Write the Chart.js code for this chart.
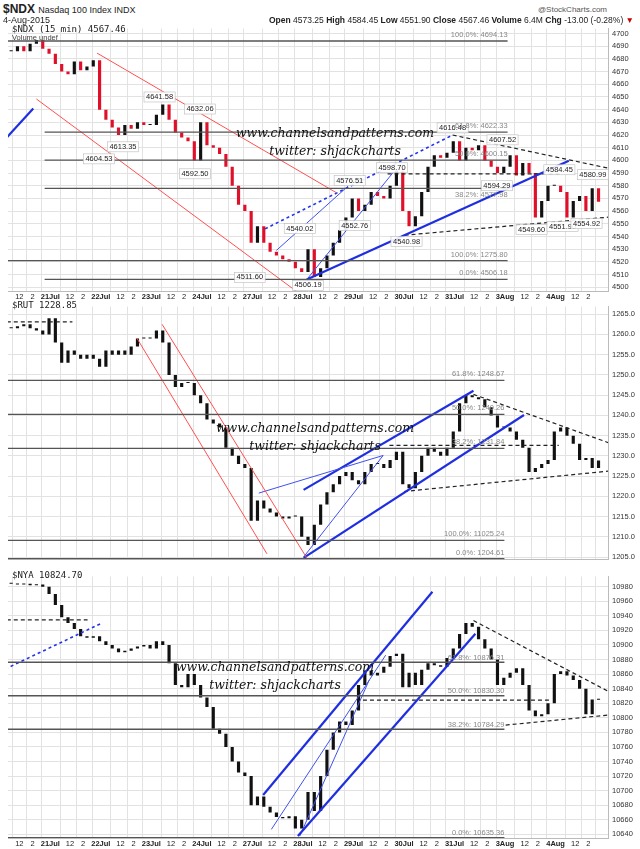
<!DOCTYPE html>
<html><head><meta charset="utf-8">
<script src="https://cdn.jsdelivr.net/npm/chart.js@4.4.0/dist/chart.umd.min.js"></script>
<style>
body{margin:0;background:#fff;font-family:"Liberation Sans",Arial,sans-serif;}
#wrap{position:relative;width:640px;height:849px;overflow:hidden;}
canvas{position:absolute;left:0;}
.t{position:absolute;white-space:nowrap;color:#222;}
.wm{position:absolute;font-family:"DejaVu Serif",serif;font-style:italic;font-size:12.5px;color:#111;text-align:center;line-height:18px;}
</style></head><body>
<div id="wrap">
<canvas id="c1" width="640" height="282" style="top:20px"></canvas>
<canvas id="c2" width="640" height="270" style="top:298px"></canvas>
<canvas id="c3" width="640" height="281" style="top:568px"></canvas>
<div class="t" style="left:3px;top:2px;font-size:12px;font-weight:bold">$NDX <span style="font-weight:normal;font-size:9px">Nasdaq 100 Index INDX</span></div>
<div class="t" style="left:3px;top:15px;font-size:9px">4-Aug-2015</div>
<div class="t" style="right:33px;top:5px;font-size:8px;color:#555">@StockCharts.com</div>
<div class="t" style="right:6px;top:15px;font-size:8.5px"><b>Open</b> 4573.25 <b>High</b> 4584.45 <b>Low</b> 4551.90 <b>Close</b> 4567.46 <b>Volume</b> 6.4M <b>Chg</b> -13.00 (-0.28%) <span style="color:#c00">&#9660;</span></div>
<div class="t" style="left:12px;top:24px;font-size:9px;font-family:'DejaVu Sans Mono',monospace">$NDX (15 min) 4567.46</div>
<div class="t" style="left:12px;top:33px;font-size:7.5px;color:#444">Volume undef</div>
<div class="t" style="left:12px;top:300px;font-size:9px;font-family:'DejaVu Sans Mono',monospace">$RUT 1228.85</div>
<div class="t" style="left:12px;top:570px;font-size:9px;font-family:'DejaVu Sans Mono',monospace">$NYA 10824.70</div>
<div class="wm" style="left:235px;top:124px;width:200px">www.channelsandpatterns.com<br>twitter: shjackcharts</div>
<div class="wm" style="left:215px;top:419px;width:200px">www.channelsandpatterns.com<br>twitter: shjackcharts</div>
<div class="wm" style="left:175px;top:658px;width:200px">www.channelsandpatterns.com<br>twitter: shjackcharts</div>
</div>
<script>
// sessions shown; 20Jul is partial (6 bars), others 8 bars
const days = ['20Jul','21Jul','22Jul','23Jul','24Jul','27Jul','28Jul','29Jul','30Jul','31Jul','3Aug','4Aug'];

const ndxClose = [
  4686,4690,4686,4692,4695,4688,
  4684,4676,4670,4668,4678,4671,4674,4679,
  4640,4632,4626,4620,4628,4625,4630,4628,
  4628,4636,4644,4632,4622,4618,4615,4600,
  4630,4612,4610,4605,4595,4580,4565,4560,
  4535,4548,4535,4528,4525,4522,4520,4515,
  4512,4530,4508,4515,4525,4535,4545,4555,
  4570,4560,4565,4575,4572,4570,4580,4592,
  4560,4548,4556,4575,4595,4604,4602,4606,
  4615,4600,4610,4608,4612,4600,4595,4590,
  4595,4604,4588,4598,4590,4555,4568,4580,
  4580,4575,4555,4568,4572,4560,4578,4567.46
];
const rutClose = [
  1261.5,1262,1262.5,1261.5,1261,1260,
  1264,1258,1253,1256,1255,1254,1255,1254,
  1252,1256,1255,1256,1255,1257,1259,1259,
  1259,1261,1258,1250,1247,1248,1248,1245,
  1243,1239,1238,1237,1232,1230,1228,1227,
  1214,1219,1217,1216,1215,1214.5,1215,1215,
  1210,1208,1213,1218,1221,1223,1225,1226,
  1224,1223,1226,1228,1228,1227,1229,1231,
  1223,1222,1226,1230,1232,1231,1230,1232,
  1236,1243,1245,1244.5,1244,1242,1240,1237,
  1237,1236,1234,1232,1226,1227,1228,1229,
  1236,1237,1235,1233,1229,1229.5,1227,1228.85
];
const nyaClose = [
  10984,10983,10984,10982,10983,10980,
  10970,10955,10938,10930,10922,10912,10910,10912,
  10905,10900,10895,10890,10892,10895,10898,10900,
  10895,10905,10900,10875,10845,10842,10860,10845,
  10828,10815,10785,10778,10760,10740,10725,10720,
  10680,10692,10678,10670,10664,10662,10665,10648,
  10660,10698,10672,10720,10756,10780,10795,10790,
  10810,10845,10865,10858,10862,10870,10885,10888,
  10842,10862,10845,10866,10875,10872,10870,10882,
  10895,10915,10930,10925,10908,10895,10880,10845,
  10855,10862,10868,10845,10810,10802,10805,10820,
  10860,10864,10858,10852,10840,10805,10825,10824.70
];

// annotation lines: [x1, y1, x2, y2, kind] in bar-index / price units
const ndxLines = [
  [-0.5,4694.13,78.6,4694.13,'fib'],[5.3,4622.33,78.6,4622.33,'fib'],[5.3,4600.15,78.6,4600.15,'fib'],
  [5.3,4577.98,78.6,4577.98,'fib'],[-0.5,4521,78.6,4521,'fib'],[5.3,4506.18,78.6,4506.18,'fib'],
  [13.6,4684.6,51.5,4574.5,'red'],[4.0,4648.4,47,4490,'red'],
  [-1.8,4612,3.5,4641,'blue'],[46.8,4506,88.3,4599.7,'blue'],
  [46.8,4506,60.4,4590,'thin'],[42,4529,53.4,4580,'thin'],[40.2,4546,69.9,4620,'dot'],
  [69.9,4620,96.3,4592,'dash'],[62.3,4541,96.3,4556,'dash'],[59.6,4589.4,86.8,4589.4,'dash']
];
const rutLines = [
  [-0.5,1248.67,78.1,1248.67,'fib'],[-0.5,1240.26,78.1,1240.26,'fib'],[-0.5,1231.84,78.1,1231.84,'fib'],
  [-0.5,1209.1,78.1,1209.1,'fib'],[-0.5,1204.61,78.1,1204.61,'fib'],
  [-1.8,1263.1,9.7,1263.1,'dash'],
  [19.9,1259.1,40.5,1205.8,'red'],[23.9,1262.5,46.8,1204.8,'red'],
  [39.2,1220.8,58.9,1230.1,'thin'],[58.9,1230.1,46.3,1205,'thin'],
  [46.3,1204.8,81.2,1240.1,'blue'],[46.3,1221.6,73.2,1246.1,'blue'],
  [73.2,1245.2,99.5,1230.5,'dash'],[62.2,1221.2,99.5,1227,'dash'],[59.9,1232.6,86.7,1232.6,'dash']
];
const nyaLines = [
  [-0.5,10876.31,78.1,10876.31,'fib'],[-0.5,10830.30,78.1,10830.30,'fib'],[-0.5,10784.29,78.1,10784.29,'fib'],
  [-0.5,10635.36,78.1,10635.36,'fib'],
  [-1.8,10934.4,12.1,10934.4,'dash'],[-1.8,10863.5,14.1,10929,'dot'],
  [39.9,10694,66.7,10973,'blue'],[45.4,10637.7,73.5,10915.4,'blue'],
  [41.2,10646.8,59.3,10886,'thin'],[45.7,10637.7,56.7,10852,'thin'],
  [73.2,10933.5,99.5,10813.8,'dash'],[78.3,10790,99.5,10808,'dash'],[55.7,10824.2,85.4,10824.2,'dash']
];

// text notes: [x, y, text, kind]
const ndxNotes = [
  [23.5,4650,'4641.58','box'],[29.9,4640.5,'4632.06','box'],[17.7,4610.7,'4613.35','box'],
  [13.9,4601.2,'4604.53','box'],[29.1,4589.4,'4592.50','box'],[37.8,4507.7,'4511.60','box'],
  [47,4501.4,'4506.19','box'],[45.7,4546.2,'4540.02','box'],[54.4,4548.6,'4552.76','box'],
  [53.6,4584,'4576.51','box'],[60.3,4594.2,'4598.70','box'],[69.9,4625.6,'4616.48','box'],
  [77.8,4616.2,'4607.52','box'],[76.9,4580,'4594.29','box'],[86.8,4592.6,'4584.45','box'],
  [92.1,4588.7,'4580.99','box'],[82.4,4545.4,'4549.60','box'],[87.3,4547.8,'4551.90','box'],
  [91.1,4550.1,'4554.92','box'],[62.6,4536,'4540.98','box'],
  [78.6,4696.5,'100.0%: 4694.13','fib'],[78.6,4624.7,'61.8%: 4622.33','fib'],[78.6,4602.5,'50.0%: 4600.15','fib'],
  [78.6,4570.5,'38.2%: 4577.98','fib'],[78.6,4523.4,'100.0%: 1275.80','fib'],[78.6,4508.5,'0.0%: 4506.18','fib']
];
const rutNotes = [
  [78.1,1249.4,'61.8%: 1248.67','fib'],[78.1,1241,'50.0%: 1240.26','fib'],[78.1,1232.6,'38.2%: 1231.84','fib'],
  [78.1,1209.9,'100.0%: 11025.24','fib'],[78.1,1205.4,'0.0%: 1204.61','fib']
];
const nyaNotes = [
  [78.1,10878.7,'61.8%: 10876.31','fib'],[78.1,10832.7,'50.0%: 10830.30','fib'],[78.1,10786.7,'38.2%: 10784.29','fib'],
  [78.1,10637.8,'0.0%: 10635.36','fib']
];

const lineStyle = {
  fib:{borderColor:'#555',borderWidth:1.3},
  red:{borderColor:'#ff5050',borderWidth:1},
  blue:{borderColor:'#1f2fe0',borderWidth:2.2},
  thin:{borderColor:'#4050ee',borderWidth:1},
  dot:{borderColor:'#2233ee',borderWidth:1.6,borderDash:[3,3]},
  dash:{borderColor:'#222',borderWidth:1.2,borderDash:[4,3]}
};

const notesPlugin = {
  id:'notes',
  afterDatasetsDraw(chart, args, opts){
    const {ctx, scales:{x,y}} = chart;
    ctx.save();
    ctx.font = '7.5px "Liberation Sans", Arial';
    ctx.textBaseline = 'middle';
    (opts.items||[]).forEach(([nx,ny,txt,kind])=>{
      const px = x.getPixelForValue(nx), py = y.getPixelForValue(ny);
      const w = ctx.measureText(txt).width;
      if (kind==='box'){
        ctx.fillStyle='rgba(255,255,255,0.9)';
        ctx.fillRect(px-w/2-2,py-5,w+4,10);
        ctx.strokeStyle='#bbb';ctx.lineWidth=0.6;
        ctx.strokeRect(px-w/2-2,py-5,w+4,10);
        ctx.fillStyle='#222';ctx.textAlign='center';ctx.fillText(txt,px,py);
      } else {
        ctx.fillStyle='#888';ctx.textAlign='right';ctx.fillText(txt,px,py-3);
      }
    });
    ctx.restore();
  }
};

function xTicks(){
  const t = [];
  days.forEach((d,i)=>{
    const s = i===0 ? -2 : 6+8*(i-1);
    if (i>0) t.push({value:s+0.2,label:d,day:true});
    t.push({value:s+3.3,label:'12'});
    t.push({value:s+5.4,label:'2'});
  });
  return t;
}

function makePanel(id, closes, lines, notes, yMin, yMax, yStart, yStep, yDec, redDown, showX){
  const bars = closes.map((c,i)=>({x:i, y:[i===0?c:closes[i-1], c]}));
  const colors = bars.map(b=> redDown && b.y[1]<b.y[0] ? '#e0102a' : '#111');
  const datasets = [{type:'bar', data:bars, backgroundColor:colors, barPercentage:0.5, categoryPercentage:1, minBarLength:1, order:2}];
  lines.forEach(([x1,y1,x2,y2,k])=>{
    datasets.push(Object.assign({type:'line', data:[{x:x1,y:y1},{x:x2,y:y2}], pointRadius:0, fill:false, order:1}, lineStyle[k]));
  });
  const ticks = xTicks();
  new Chart(document.getElementById(id), {
    data:{datasets},
    options:{
      responsive:false, animation:false, devicePixelRatio:1,
      layout:{padding:{left:8, top: id==='c1'?5:0, right:0, bottom:0}},
      plugins:{legend:{display:false}, tooltip:{enabled:false}, notes:{items:notes}},
      scales:{
        x:{type:'linear', min:-0.5, max:94.5, offset:false,
          afterBuildTicks:s=>{s.ticks = ticks.map(t=>({value:t.value}));},
          ticks:{display:showX, autoSkip:false, maxRotation:0, padding:1, color:'#222',
            callback:(v,i)=>ticks[i] ? ticks[i].label : '',
            font:c=>({size:7.5, weight: ticks[c.index] && ticks[c.index].day ? 'bold':'normal'})},
          grid:{color:'#e2e2e2', drawTicks:false}, border:{color:'#bbb'}},
        y:{position:'right', min:yMin, max:yMax,
          afterBuildTicks:s=>{const a=[];for(let v=yStart;v<=yMax;v+=yStep)a.push({value:v});s.ticks=a;},
          afterFit:s=>{s.width=32;},
          ticks:{font:{size:7.5}, color:'#333', padding:4, callback:v=>v.toFixed(yDec)},
          grid:{color:'#e2e2e2', drawTicks:false}, border:{color:'#bbb'}}
      }
    },
    plugins:[notesPlugin]
  });
}

makePanel('c1', ndxClose, ndxLines, ndxNotes, 4497, 4704, 4500, 10, 0, true, true);
makePanel('c2', rutClose, rutLines, rutNotes, 1204.4, 1266.9, 1205, 2.5, 1, false, false);
makePanel('c3', nyaClose, nyaLines, nyaNotes, 10635, 10994, 10640, 20, 0, false, true);
</script>
</body></html>
